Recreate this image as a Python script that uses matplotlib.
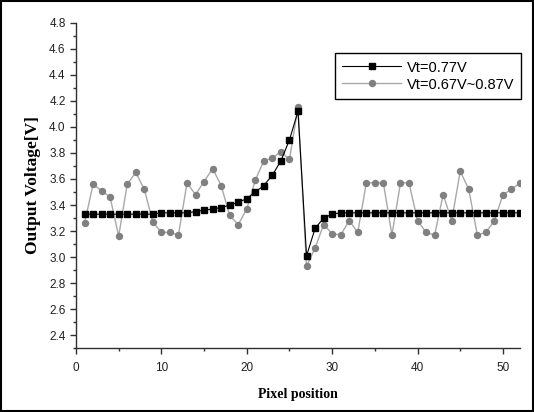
import matplotlib
matplotlib.use("Agg")
import matplotlib.pyplot as plt
from matplotlib.patches import Rectangle
from matplotlib.ticker import MultipleLocator

# pixel position, 1..52
pixel = list(range(1, 53))

# Vt = 0.77V (fixed threshold)
v_fixed = [3.33, 3.33, 3.33, 3.33, 3.33, 3.33, 3.33, 3.33, 3.33, 3.34,
           3.34, 3.34, 3.34, 3.35, 3.36, 3.37, 3.38, 3.40, 3.42, 3.45,
           3.50, 3.55, 3.63, 3.74, 3.90, 4.12, 3.01, 3.22, 3.30, 3.33,
           3.34, 3.34, 3.34, 3.34, 3.34, 3.34, 3.34, 3.34, 3.34, 3.34,
           3.34, 3.34, 3.34, 3.34, 3.34, 3.34, 3.34, 3.34, 3.34, 3.34,
           3.34, 3.34]

# Vt = 0.67V ~ 0.87V (spread threshold)
v_spread = [3.26, 3.56, 3.51, 3.46, 3.16, 3.56, 3.65, 3.52, 3.27, 3.19,
            3.19, 3.17, 3.57, 3.48, 3.58, 3.68, 3.55, 3.32, 3.25, 3.37,
            3.59, 3.74, 3.76, 3.81, 3.75, 4.15, 2.93, 3.07, 3.25, 3.18,
            3.17, 3.28, 3.19, 3.57, 3.57, 3.57, 3.17, 3.57, 3.57, 3.28,
            3.19, 3.17, 3.48, 3.28, 3.66, 3.52, 3.17, 3.19, 3.28, 3.48,
            3.52, 3.57]

fig = plt.figure(figsize=(5.34, 4.12), dpi=100)
ax = fig.add_axes([0.1423, 0.1546, 0.8315, 0.7903])

ax.plot(pixel, v_spread, '-', color='#a8a8a8', lw=1.0, marker='o',
        markersize=4.3, markerfacecolor='#808080', markeredgecolor='#808080',
        label='Vt=0.67V~0.87V', zorder=2)
ax.plot(pixel, v_fixed, '-', color='black', lw=0.8, marker='s',
        markersize=5.0, markerfacecolor='black', markeredgecolor='black',
        label='Vt=0.77V', zorder=3)

ax.set_xlim(0, 52)
ax.set_ylim(2.3, 4.8)
ax.xaxis.set_major_locator(MultipleLocator(10))
ax.xaxis.set_minor_locator(MultipleLocator(5))
ax.yaxis.set_minor_locator(MultipleLocator(0.1))
ax.set_yticks([2.4 + 0.2 * i for i in range(13)])
ax.set_yticklabels(['%.1f' % (2.4 + 0.2 * i) for i in range(13)])

for s in ['top', 'right']:
    ax.spines[s].set_visible(False)
for s in ['left', 'bottom']:
    ax.spines[s].set_color('#303030')
    ax.spines[s].set_linewidth(1.0)

ax.tick_params(which='major', direction='out', length=4, width=1, color='#303030',
               labelsize=8.5, labelcolor='#202020')
ax.tick_params(axis='x', which='major', pad=6)
ax.tick_params(which='minor', direction='out', length=2.5, width=1, color='#303030')
for lab in ax.get_xticklabels() + ax.get_yticklabels():
    lab.set_family('Liberation Sans')

ax.set_xlabel('Pixel position', family='Liberation Serif', fontweight='bold',
              fontsize=10, labelpad=10)
ax.set_ylabel('Output Voltage[V]', family='Liberation Serif', fontweight='bold',
              fontsize=12.5, labelpad=6)

handles, labels = ax.get_legend_handles_labels()
leg = ax.legend(handles[::-1], labels[::-1], loc='upper right',
                bbox_to_anchor=(1.003, 0.906), borderaxespad=0, fancybox=False,
                framealpha=1, edgecolor='black', handlelength=4.0,
                prop={'family': 'Liberation Sans', 'size': 10.5},
                borderpad=0.5, labelspacing=0.2, handletextpad=0.4)
leg.get_frame().set_linewidth(1.0)

fig.patches.append(Rectangle((0.002, 0.002), 0.996, 0.996, transform=fig.transFigure,
                             fill=False, edgecolor='black', linewidth=1.5))

fig.savefig('out.png', dpi=100)
